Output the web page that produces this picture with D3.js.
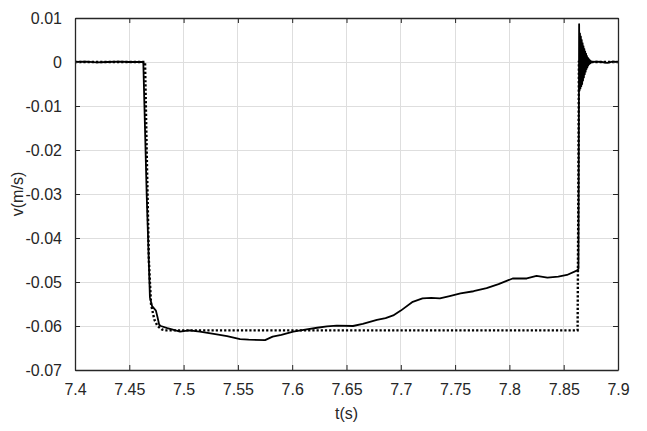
<!DOCTYPE html>
<html>
<head>
<meta charset="utf-8">
<script src="https://cdn.jsdelivr.net/npm/d3@7"></script>
<style>
  html, body { margin: 0; padding: 0; background: #fff; }
  svg { display: block; }
  text { font-family: "Liberation Sans", Arial, Helvetica, sans-serif; fill: #262626; }
</style>
</head>
<body>
<svg id="chart" width="647" height="431"></svg>
<script>
// ---- data ----
const xTicks = [7.4, 7.45, 7.5, 7.55, 7.6, 7.65, 7.7, 7.75, 7.8, 7.85, 7.9];
const xTickLabels = ["7.4", "7.45", "7.5", "7.55", "7.6", "7.65", "7.7", "7.75", "7.8", "7.85", "7.9"];
const yTicks = [0.01, 0, -0.01, -0.02, -0.03, -0.04, -0.05, -0.06, -0.07];
const yTickLabels = ["0.01", "0", "-0.01", "-0.02", "-0.03", "-0.04", "-0.05", "-0.06", "-0.07"];
const xLabel = "t(s)";
const yLabel = "v(m/s)";

// measured velocity (solid)
const measuredT = [
  7.400, 7.410, 7.420, 7.430, 7.440, 7.450, 7.4629,
  7.4660, 7.4690, 7.4710, 7.4745, 7.4760, 7.4775, 7.4790, 7.4850,
  7.4967, 7.505, 7.515, 7.5305, 7.540, 7.552, 7.560, 7.575, 7.582, 7.590,
  7.601, 7.612, 7.623, 7.632, 7.641, 7.656, 7.665, 7.678, 7.686, 7.693,
  7.700, 7.711, 7.720, 7.728, 7.736, 7.745, 7.755, 7.767, 7.779, 7.790,
  7.803, 7.816, 7.825, 7.835, 7.845, 7.853, 7.862, 7.8636,
  7.8642, 7.8646, 7.8650, 7.8654, 7.8658, 7.8662, 7.8666, 7.8670, 7.8674, 7.8678,
  7.8682, 7.8686, 7.8690, 7.8694, 7.8698, 7.8702, 7.8706, 7.8710, 7.8714, 7.8718,
  7.8722, 7.8726, 7.8730, 7.8735, 7.8740, 7.8745, 7.8750, 7.8755, 7.8765,
  7.880, 7.885, 7.890, 7.895, 7.900
];
const measuredV = [
  0, 0.0001, -0.0001, 0, 0.0001, 0, 0,
  -0.030, -0.0535, -0.0555, -0.0565, -0.0580, -0.0597, -0.0600, -0.0605,
  -0.0613, -0.0610, -0.0613, -0.0619, -0.0623, -0.0630, -0.0631, -0.0632, -0.0624, -0.0620,
  -0.0613, -0.0608, -0.0604, -0.0601, -0.0599, -0.0600, -0.0595, -0.0586, -0.0582, -0.0576,
  -0.0565, -0.0545, -0.0537, -0.0536, -0.0537, -0.0532, -0.0526, -0.0521, -0.0514, -0.0505,
  -0.0492, -0.0492, -0.0486, -0.0490, -0.0488, -0.0484, -0.0474, -0.0470,
  0.0086, -0.0065, 0.0065, -0.0060, 0.0058, -0.0055, 0.0050, -0.0050, 0.0043, -0.0042,
  0.0036, -0.0035, 0.0030, -0.0028, 0.0024, -0.0022, 0.0019, -0.0016, 0.0014, -0.0012,
  0.0010, -0.0008, 0.0007, -0.0005, 0.0004, -0.0003, 0.0002, -0.0001, 0,
  0.0001, 0, -0.0002, 0.0001, 0
];

// reference velocity (dotted)
const referenceT = [7.400, 7.4645, 7.4660, 7.4680, 7.4700, 7.4730, 7.4760, 7.4800, 7.4830, 7.8628, 7.8635, 7.8640, 7.900];
const referenceV = [0, 0, -0.020, -0.045, -0.055, -0.0585, -0.0600, -0.0608, -0.0610, -0.0610, -0.030, 0, 0];

// ---- layout ----
const svg = d3.select("#chart");
const L = 75, R = 618, T = 18, B = 370;
const x = d3.scaleLinear().domain([7.4, 7.9]).range([L, R]);
const y = d3.scaleLinear().domain([-0.07, 0.01]).range([B, T]);
const axisColor = "#262626";
const fontSize = "16px";

// grid
const grid = svg.append("g");
grid.selectAll(".gx").data(xTicks).join("line")
  .attr("x1", d => x(d)).attr("x2", d => x(d)).attr("y1", T).attr("y2", B)
  .attr("stroke", "#dedede").attr("stroke-width", 1).attr("shape-rendering", "crispEdges");
grid.selectAll(".gy").data(yTicks).join("line")
  .attr("y1", d => y(d)).attr("y2", d => y(d)).attr("x1", L).attr("x2", R)
  .attr("stroke", "#dedede").attr("stroke-width", 1).attr("shape-rendering", "crispEdges");

// data lines
const refData = referenceT.map((t, i) => [t, referenceV[i]]);
const measData = measuredT.map((t, i) => [t, measuredV[i]]);
const line = d3.line().x(d => x(d[0])).y(d => y(d[1]));

svg.append("path").datum(refData).attr("d", line)
  .attr("fill", "none").attr("stroke", "#000").attr("stroke-width", 2.4)
  .attr("stroke-dasharray", "2.2,2");
svg.append("path").datum(measData).attr("d", line)
  .attr("fill", "none").attr("stroke", "#000").attr("stroke-width", 1.8)
  .attr("stroke-linejoin", "round");

// axes (ticks inside, box)
const fmtX = (d, i) => xTickLabels[i];
const fmtY = (d, i) => yTickLabels[i];
const ax = [
  svg.append("g").attr("transform", `translate(0,${B})`)
    .call(d3.axisBottom(x).tickValues(xTicks).tickFormat(fmtX).tickSizeInner(-5).tickSizeOuter(0).tickPadding(14)),
  svg.append("g").attr("transform", `translate(0,${T})`)
    .call(d3.axisTop(x).tickValues(xTicks).tickFormat("").tickSizeInner(-5).tickSizeOuter(0)),
  svg.append("g").attr("transform", `translate(${L},0)`)
    .call(d3.axisLeft(y).tickValues(yTicks).tickFormat(fmtY).tickSizeInner(-5).tickSizeOuter(0).tickPadding(13)),
  svg.append("g").attr("transform", `translate(${R},0)`)
    .call(d3.axisRight(y).tickValues(yTicks).tickFormat("").tickSizeInner(-5).tickSizeOuter(0))
];
ax.forEach(g => {
  g.select(".domain").attr("stroke", axisColor).attr("stroke-width", 1.3);
  g.selectAll(".tick line").attr("stroke", axisColor).attr("stroke-width", 1);
  g.selectAll(".tick text").attr("font-size", fontSize)
    .attr("font-family", "'Liberation Sans', Arial, sans-serif").attr("fill", axisColor);
});

// labels
svg.append("text").attr("x", (L + R) / 2).attr("y", 419)
  .attr("text-anchor", "middle").attr("font-size", fontSize).text(xLabel);
svg.append("text").attr("transform", `translate(23,${(T + B) / 2}) rotate(-90)`)
  .attr("text-anchor", "middle").attr("font-size", fontSize).text(yLabel);
</script>
</body>
</html>
